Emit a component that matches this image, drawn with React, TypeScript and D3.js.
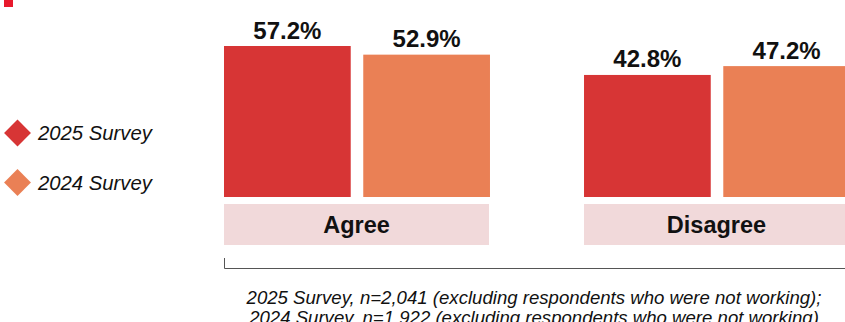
import React from "react";
import * as d3 from "d3";

const categories = ["Agree", "Disagree"];
const series = ["2025 Survey", "2024 Survey"];
const values2025 = [57.2, 42.8];
const values2024 = [52.9, 47.2];
const footnotes = [
  "2025 Survey, n=2,041 (excluding respondents who were not working);",
  "2024 Survey, n=1,922 (excluding respondents who were not working)",
];

const colors = ["#d73535", "#ea8055"];
const FONT = "Liberation Sans, Arial, sans-serif";

export default function App() {
  const W = 845;
  const H = 322;
  const x0 = d3.scaleBand<string>().domain(categories).range([224, 849]).paddingInner(0.264).paddingOuter(0);
  const x1 = d3.scaleBand<string>().domain(series).range([0, x0.bandwidth() + 1]).paddingInner(0.09);
  const y = d3.scaleLinear().domain([-17.9, 57.2]).range([197, 46]);
  const data = [values2025, values2024];

  return (
    <svg width={W} height={H} style={{ position: "absolute", left: 0, top: 0, background: "#fff" }} fontFamily={FONT}>
      <rect x={4} y={0} width={9} height={7} fill="#e8192c" />
      {series.map((s, i) => (
        <g key={s} transform={`translate(17.5,${133 + i * 49.5})`}>
          <rect x={-9.5} y={-9.5} width={19} height={19} fill={colors[i]} transform="rotate(45)" />
          <text x={20.5} y={7} fontSize={20.3} fontStyle="italic" fill="#111">{s}</text>
        </g>
      ))}
      {categories.map((c, ci) => (
        <g key={c} transform={`translate(${x0(c)},0)`}>
          {series.map((s, si) => {
            const v = data[si][ci];
            const bx = x1(s)!;
            const bw = x1.bandwidth();
            return (
              <g key={s}>
                <rect x={bx} y={y(v)} width={bw} height={y.range()[0] - y(v)} fill={colors[si]} />
                <text x={bx + bw / 2} y={y(v) - 7.5} textAnchor="middle" fontSize={24} fontWeight="bold" fill="#111">
                  {v.toFixed(1)}%
                </text>
              </g>
            );
          })}
          <rect x={0} y={204} width={x0.bandwidth()} height={41} fill="#f1d9da" />
          <text x={x0.bandwidth() / 2} y={233} textAnchor="middle" fontSize={23.5} fontWeight="bold" fill="#111">
            {c}
          </text>
        </g>
      ))}
      <path d={`M224.5,258 V268.5 H${W}`} fill="none" stroke="#555" strokeWidth={1} />
      {footnotes.map((t, i) => (
        <text key={i} x={534} y={304 + i * 20} textAnchor="middle" fontSize={18.6} fontStyle="italic" fill="#111">
          {t}
        </text>
      ))}
    </svg>
  );
}
